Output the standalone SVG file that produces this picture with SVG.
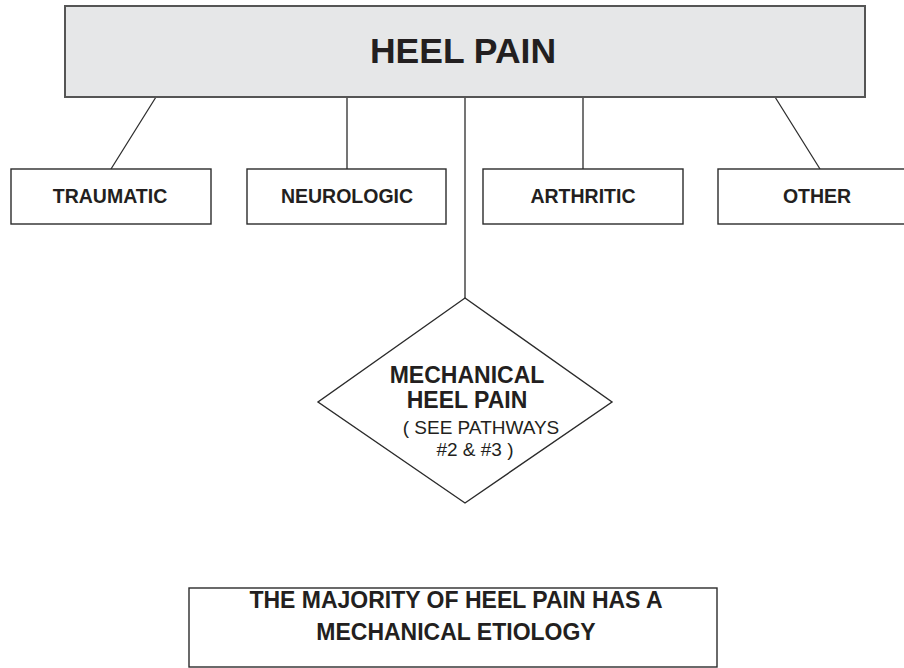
<svg xmlns="http://www.w3.org/2000/svg" width="904" height="668" viewBox="0 0 904 668">
<style>
.box{fill:#ffffff;stroke:#2b2b2b;stroke-width:1.4}
.top{fill:#e6e7e8;stroke:#555555;stroke-width:2}
.lbl{font-family:"Liberation Sans",Arial,sans-serif;font-weight:bold;fill:#231f20;text-anchor:middle}
.reg{font-family:"Liberation Sans",Arial,sans-serif;fill:#231f20;text-anchor:middle}
.conn line{stroke:#2b2b2b;stroke-width:1.3}
</style>
<rect width="904" height="668" fill="#ffffff"/>
<g id="connectors" class="conn">
<line x1="156" y1="97" x2="111" y2="169"/>
<line x1="347" y1="97" x2="347" y2="169"/>
<line x1="465" y1="97" x2="465" y2="298"/>
<line x1="583" y1="97" x2="583" y2="169"/>
<line x1="775" y1="97" x2="820" y2="169"/>
</g>
<g id="heel-pain">
<rect class="top" x="65" y="6" width="800" height="91"/>
<text class="lbl" x="463" y="63" font-size="35.5">HEEL PAIN</text>
</g>
<g id="traumatic">
<rect class="box" x="11" y="169" width="200" height="55"/>
<text class="lbl" x="110" y="202.5" font-size="19.5">TRAUMATIC</text>
</g>
<g id="neurologic">
<rect class="box" x="247" y="169" width="199" height="55"/>
<text class="lbl" x="347" y="202.5" font-size="19.5">NEUROLOGIC</text>
</g>
<g id="arthritic">
<rect class="box" x="483" y="169" width="200" height="55"/>
<text class="lbl" x="583" y="202.5" font-size="19.5">ARTHRITIC</text>
</g>
<g id="other">
<rect class="box" x="718" y="169" width="200" height="55"/>
<text class="lbl" x="817" y="202.5" font-size="19.5">OTHER</text>
</g>
<g id="mechanical">
<polygon class="box" points="465,298 612,402 465,503 318,402"/>
<text class="lbl" x="467" y="383" font-size="23">MECHANICAL</text>
<text class="lbl" x="467" y="408" font-size="23">HEEL PAIN</text>
<text class="reg" x="481" y="434" font-size="19">( SEE PATHWAYS</text>
<text class="reg" x="475" y="456" font-size="19">#2 &amp; #3 )</text>
</g>
<g id="majority">
<rect class="box" x="189" y="588" width="528" height="79"/>
<text class="lbl" x="456" y="608" font-size="23">THE MAJORITY OF HEEL PAIN HAS A</text>
<text class="lbl" x="456" y="640" font-size="23">MECHANICAL ETIOLOGY</text>
</g>
</svg>
